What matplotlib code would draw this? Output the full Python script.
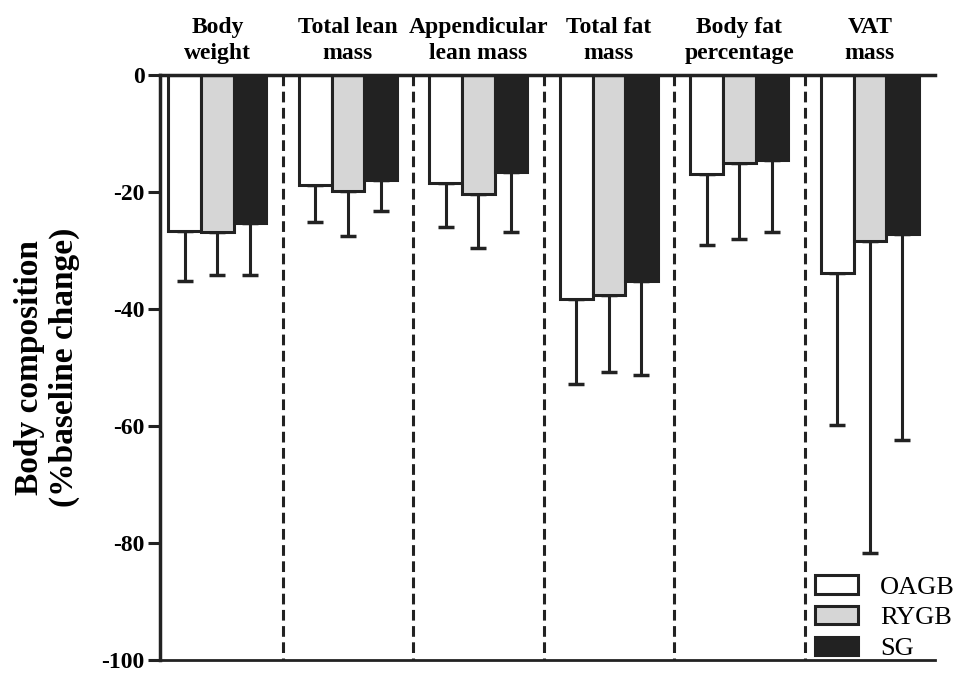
import numpy as np
import matplotlib
matplotlib.use('Agg')
import matplotlib.pyplot as plt
from matplotlib.patches import Patch

plt.rcParams['font.family'] = ['Liberation Serif', 'DejaVu Serif']

# measures and mean % change from baseline (lower error = SD)
categories = ['Body\nweight', 'Total lean\nmass', 'Appendicular\nlean mass',
              'Total fat\nmass', 'Body fat\npercentage', 'VAT\nmass']
groups = ['OAGB', 'RYGB', 'SG']
oagb = [-26.6, -18.8, -18.4, -38.3, -16.9, -33.8]
rygb = [-26.9, -19.8, -20.4, -37.5, -15.1, -28.3]
sg = [-25.2, -17.9, -16.6, -35.1, -14.5, -27.1]
oagb_low = [-35.2, -25.1, -26.0, -52.7, -29.1, -59.8]
rygb_low = [-34.2, -27.5, -29.5, -50.8, -28.0, -81.7]
sg_low = [-34.2, -23.3, -26.8, -51.3, -26.9, -62.4]

colors = ['white', '#d6d6d6', '#222222']
means = [oagb, rygb, sg]
lows = [oagb_low, rygb_low, sg_low]

fig = plt.figure(figsize=(9.61, 6.75), dpi=100)
ax = fig.add_axes([0.1665, 0.0215, 0.8065, 0.8674])

x = np.arange(len(categories))
w = 0.25
for k in range(3):
    pos = x + (k - 1) * w
    m = np.array(means[k])
    err = m - np.array(lows[k])
    ax.bar(pos, m, width=w, color=colors[k], edgecolor='#222222', linewidth=2.2, zorder=2)
    ax.errorbar(pos, m, yerr=[err, np.zeros_like(err)], fmt='none', ecolor='#222222',
                elinewidth=2.2, capsize=6, capthick=2.5, zorder=1)

for i in range(len(categories) - 1):
    ax.plot([i + 0.5, i + 0.5], [0, -100], color='#222222', lw=2.2,
            dashes=(3.5, 1.8), zorder=0, clip_on=False)

ax.set_xlim(-0.44, 5.5)
ax.set_ylim(-100, 0)
ax.set_yticks([0, -20, -40, -60, -80, -100])
ax.set_yticklabels(['0', '-20', '-40', '-60', '-80', '-100'], fontsize=17, fontweight='bold')
ax.tick_params(axis='y', length=9, width=2.2, pad=2, color='#222222')

ax.xaxis.tick_top()
ax.set_xticks(x)
ax.set_xticklabels(categories, fontsize=17, fontweight='bold', linespacing=1.3)
ax.tick_params(axis='x', length=0, pad=8)

ax.spines['right'].set_visible(False)
ax.spines['left'].set_linewidth(2.5)
ax.spines['top'].set_linewidth(2.5)
ax.spines['bottom'].set_linewidth(2)
for s in ax.spines.values():
    s.set_color('#222222')

ax.set_ylabel('Body composition\n(%baseline change)', fontsize=24, fontweight='bold',
              linespacing=1.15)
ax.yaxis.set_label_coords(-0.103, 0.5)

handles = [Patch(facecolor=c, edgecolor='#222222', linewidth=2.2, label=g)
           for c, g in zip(colors, groups)]
fig.legend(handles=handles, loc='lower left', bbox_to_anchor=(0.848, 0.022), frameon=False,
           fontsize=19, handlelength=1.63, handleheight=0.68, handletextpad=0.83,
           labelspacing=0.28, borderpad=0, borderaxespad=0)

fig.savefig('out.png', dpi=100)
